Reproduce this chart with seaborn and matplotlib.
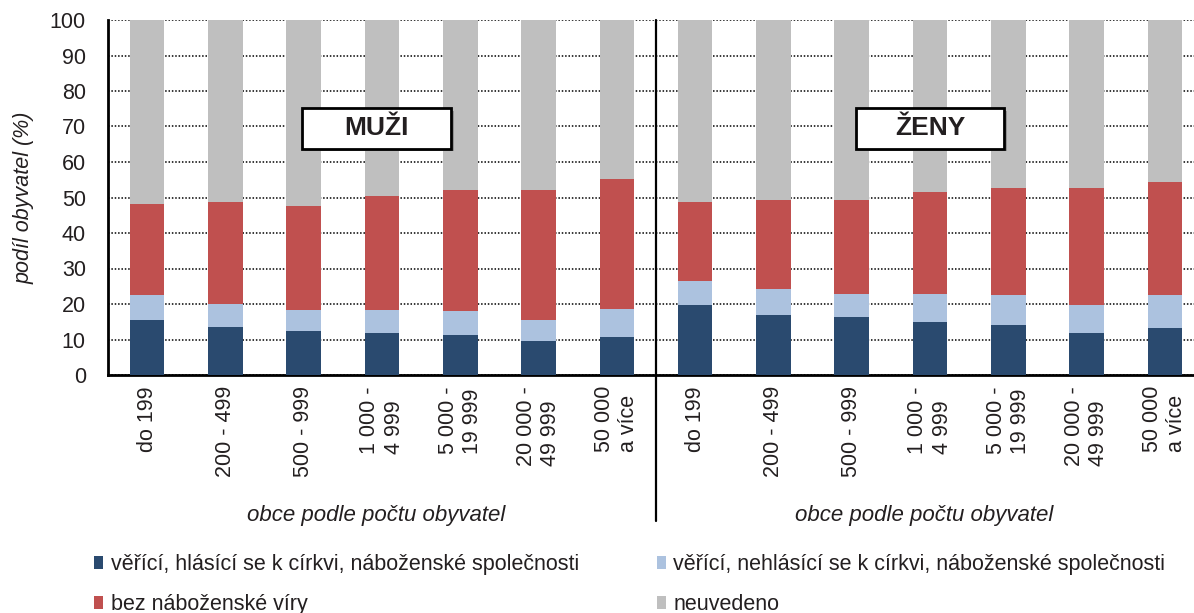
import matplotlib
matplotlib.use("Agg")
import matplotlib.pyplot as plt
import matplotlib.patches as mpatches
import matplotlib.patheffects as pe
import numpy as np
import pandas as pd
import seaborn as sns

# podíl obyvatel (%) podle velikosti obce, muži a ženy
size_labels = ["do 199", "200 - 499", "500 - 999", "1 000 -\n4 999",
               "5 000 -\n19 999", "20 000 -\n49 999", "50 000\na více"]
groups = ["MUŽI", "ŽENY"]

men_hlasici = [15.6, 13.6, 12.5, 11.9, 11.4, 9.7, 10.8]
men_nehlasici = [6.8, 6.5, 5.9, 6.5, 6.5, 5.9, 7.9]
men_bez = [25.7, 28.5, 29.1, 31.9, 34.1, 36.4, 36.4]

women_hlasici = [19.6, 16.8, 16.2, 15.0, 14.2, 11.9, 13.1]
women_nehlasici = [7.0, 7.3, 6.7, 7.9, 8.2, 7.7, 9.3]
women_bez = [22.0, 25.1, 26.3, 28.6, 30.2, 33.0, 32.1]

series_names = ["věřící, hlásící se k církvi, náboženské společnosti",
                "věřící, nehlásící se k církvi, náboženské společnosti",
                "bez náboženské víry",
                "neuvedeno"]
colors = ["#2A4A6F", "#ACC2DF", "#C0504F", "#BFBFBF"]

# build table
rows = []
for g, (a, b, c) in zip(groups, [(men_hlasici, men_nehlasici, men_bez),
                                  (women_hlasici, women_nehlasici, women_bez)]):
    for i, lab in enumerate(size_labels):
        rows.append({"key": f"{g}_{i}", "label": lab, "s1": a[i], "s2": b[i], "s3": c[i],
                     "s4": 100 - a[i] - b[i] - c[i]})
df = pd.DataFrame(rows)
df["c1"] = df["s1"]
df["c2"] = df["c1"] + df["s2"]
df["c3"] = df["c2"] + df["s3"]
df["c4"] = df["c3"] + df["s4"]

sns.set_theme(style="white")
plt.rcParams["font.family"] = ["Liberation Sans", "DejaVu Sans"]
text_color = "#231F20"
fs = 15.5

fig = plt.figure(figsize=(11.94, 6.13), dpi=100)
ax = fig.add_axes([108 / 1194, 238 / 613, 1096 / 1194, 355 / 613])

order = list(df["key"])
for col, color in zip(["c4", "c3", "c2", "c1"], colors[::-1]):
    sns.barplot(data=df, x="key", y=col, order=order, color=color, width=0.44,
                saturation=1, linewidth=0, edgecolor="none", ax=ax, zorder=3)
handles = [mpatches.Patch(facecolor=color, edgecolor="none", label=name)
           for color, name in zip(colors, series_names)]

ax.set_xlim(-0.5, len(order) - 0.5)
ax.set_ylim(0, 100)
ax.set_yticks(np.arange(0, 101, 10))
ax.yaxis.grid(True, color="black", linestyle=(0, (1, 1.2)), linewidth=1.1, zorder=0)
ax.set_axisbelow(True)

ax.set_xticks(range(len(order)))
ax.set_xticklabels(list(df["label"]), rotation=90, va="top", ha="center",
                   multialignment="left", fontsize=fs, color=text_color)
ax.set_xticks(np.arange(-0.5, len(order), 1), minor=True)
ax.tick_params(axis="x", which="major", length=0, pad=8)
ax.tick_params(axis="x", which="minor", length=5, width=1.5, direction="out", color="black")
ax.tick_params(axis="y", length=5, width=1.5, direction="out", color="black", pad=11,
               labelsize=fs, labelcolor=text_color)
ax.set_xlabel("")
ax.set_ylabel("podíl obyvatel (%)", fontstyle="italic", fontsize=fs, color=text_color, labelpad=11)

for side in ["top", "right"]:
    ax.spines[side].set_visible(False)
for side in ["left", "bottom"]:
    ax.spines[side].set_color("black")
    ax.spines[side].set_linewidth(2)

# divider between men and women
ax.axvline(6.5, ymin=-0.41, ymax=1, color="black", linewidth=1.6, clip_on=False, zorder=5)

# x-axis titles for each half
for xc in [3, 10]:
    ax.text(xc - 0.07, -0.395, "obce podle počtu obyvatel", transform=ax.get_xaxis_transform(),
            ha="center", va="center", fontstyle="italic", fontsize=16, color=text_color)

# group boxes
for xc, g in zip([2.93, 10.0], groups):
    rect = mpatches.Rectangle((xc - 0.95, 63.8), 1.9, 11.4, facecolor="white", edgecolor="black",
                              linewidth=2, zorder=6,
                              path_effects=[pe.SimplePatchShadow(offset=(2, -2), shadow_rgbFace="#888888", alpha=0.8),
                                            pe.Normal()])
    ax.add_patch(rect)
    ax.text(xc, 69.5, g, ha="center", va="center", fontsize=19, fontweight="bold",
            color=text_color, zorder=7)

leg_handles = [handles[0], handles[2], handles[1], handles[3]]
fig.legend(handles=leg_handles, loc="lower left", bbox_to_anchor=(75 / 1194, -0.035), ncol=2,
           frameon=False, fontsize=15.5, handlelength=0.42, handleheight=0.55, handletextpad=0.35,
           columnspacing=3.6, labelspacing=0.9, labelcolor=text_color)

fig.savefig("out.png", dpi=100)
